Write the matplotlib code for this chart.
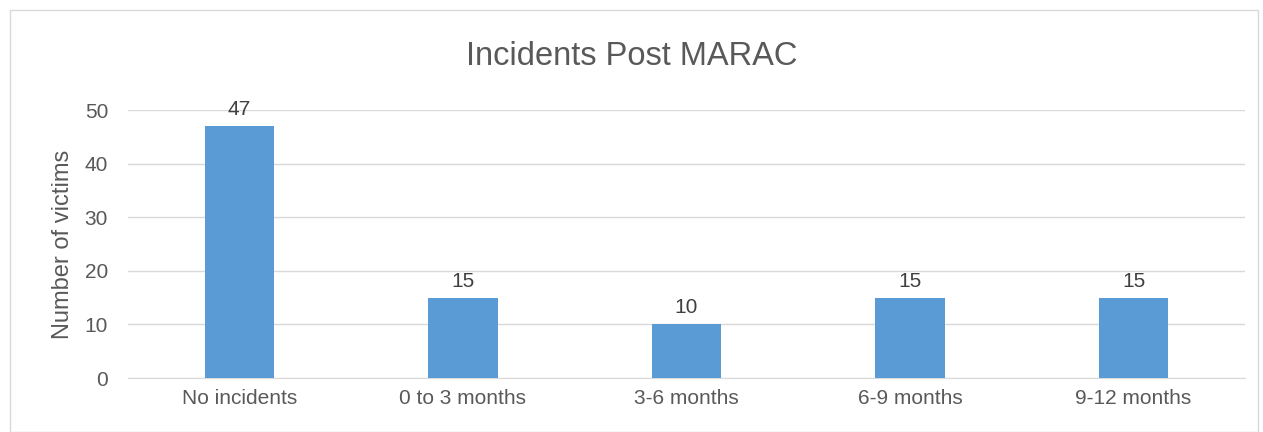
import matplotlib.pyplot as plt
from matplotlib.patches import Rectangle

categories = ["No incidents", "0 to 3 months", "3-6 months", "6-9 months", "9-12 months"]
victims = [47, 15, 10, 15, 15]
yticks = [0, 10, 20, 30, 40, 50]

plt.rcParams['font.family'] = ['Liberation Sans', 'DejaVu Sans']

fig = plt.figure(figsize=(12.63, 4.32), dpi=100)
ax = fig.add_axes([0.101, 0.125, 0.885, 0.62])

bars = ax.bar(range(len(categories)), victims, width=0.31, color='#5B9BD5', zorder=3)
for b, v in zip(bars, victims):
    ax.text(b.get_x() + b.get_width() / 2, v + 1.3, str(v), ha='center', va='bottom',
            fontsize=15, color='#404040')

ax.set_xlim(-0.5, len(categories) - 0.5)
ax.set_ylim(0, 50)
ax.set_yticks(yticks)
ax.set_xticks(range(len(categories)))
ax.set_xticklabels(categories)
ax.tick_params(axis='both', length=0, labelsize=15, labelcolor='#595959')
ax.tick_params(axis='x', pad=8)
ax.tick_params(axis='y', pad=14)
ax.grid(axis='y', color='#D9D9D9', lw=1, zorder=0)
for s in ['left', 'right', 'top']:
    ax.spines[s].set_visible(False)
ax.spines['bottom'].set_color('#D9D9D9')
ax.set_ylabel("Number of victims", fontsize=17, color='#595959', labelpad=8)

fig.text(0.5, 0.87, "Incidents Post MARAC", ha='center', va='center', fontsize=23.5, color='#595959')

fig.patches.append(Rectangle((0.008, 0.0), 0.988, 0.977, transform=fig.transFigure,
                             fill=False, edgecolor='#D9D9D9', lw=1))

fig.savefig("out.png", dpi=100)
